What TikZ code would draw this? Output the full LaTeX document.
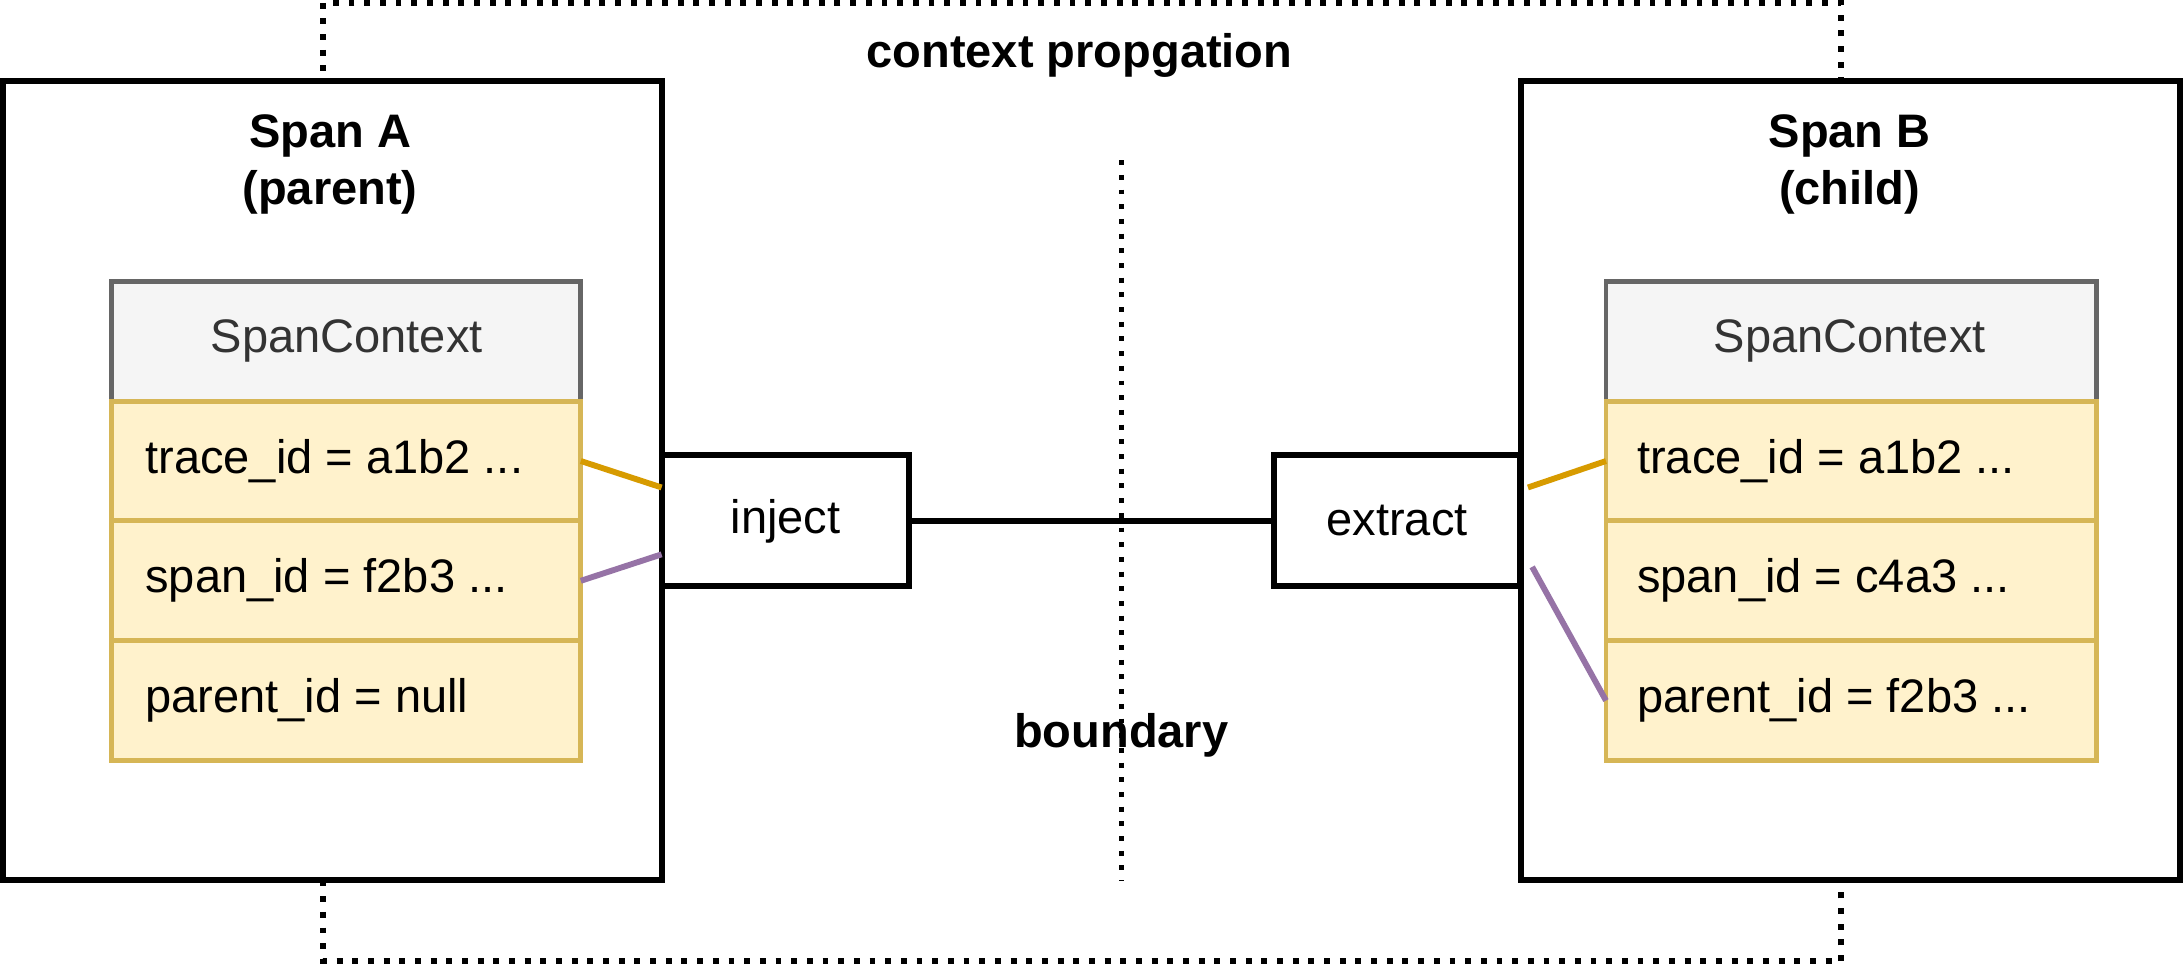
\documentclass[tikz,border=0pt]{standalone}
\usepackage{fontspec}
\setmainfont{Liberation Sans}
\definecolor{yfill}{HTML}{FFF2CC}
\definecolor{yline}{HTML}{D6B656}
\definecolor{orng}{HTML}{D79B00}
\definecolor{purp}{HTML}{9673A6}
\definecolor{gfill}{HTML}{F5F5F5}
\definecolor{gline}{HTML}{666666}
\begin{document}
\begin{tikzpicture}[x=0.01cm,y=-0.01cm,
  box/.style={draw=black,line width=1.2pt,fill=white},
  hdr/.style={draw=gline,line width=1pt,fill=gfill},
  row/.style={draw=yline,line width=1pt,fill=yfill},
  txt/.style={font=\fontsize{9.6}{11.5}\selectfont},
  btxt/.style={font=\bfseries\fontsize{9.6}{11.5}\selectfont,align=center},
  rtxt/.style={font=\fontsize{9.6}{11.5}\selectfont,anchor=west},
  op/.style={box,font=\fontsize{9.6}{11.5}\selectfont,minimum width=1.77cm,minimum height=0.94cm,inner sep=0pt}]
\useasboundingbox (0,0) rectangle (1568,692);
\draw[dotted,line width=1.2pt] (232,2) rectangle (1322,690);
\node[btxt] (ctx) at (775,40) {context propgation};
\draw[dotted,line width=1pt] (805,115) -- (805,632);
\node[btxt] (bnd) at (805,528) {boundary};
% Span A
\draw[box] (2,58) rectangle (475,632);
\node[btxt] (ta) at (237,118) {Span A\\(parent)};
\draw[hdr] (80,202) rectangle (417,288);
\node[txt,text=black!80] (ha) at (249,245) {SpanContext};
\draw[row] (80,288) rectangle (417,374);
\draw[row] (80,374) rectangle (417,460);
\draw[row] (80,460) rectangle (417,546);
\node[rtxt] (a1) at (92,331) {trace\_id = a1b2 ...};
\node[rtxt] (a2) at (92,417) {span\_id = f2b3 ...};
\node[rtxt] (a3) at (92,503) {parent\_id = null};
\coordinate (a1e) at (417,331);
\coordinate (a2e) at (417,417);
% Span B
\draw[box] (1092,58) rectangle (1565,632);
\node[btxt] (tb) at (1328,118) {Span B\\(child)};
\draw[hdr] (1153,202) rectangle (1505,288);
\node[txt,text=black!80] (hb) at (1328,245) {SpanContext};
\draw[row] (1153,288) rectangle (1505,374);
\draw[row] (1153,374) rectangle (1505,460);
\draw[row] (1153,460) rectangle (1505,546);
\node[rtxt] (b1) at (1163,331) {trace\_id = a1b2 ...};
\node[rtxt] (b2) at (1163,417) {span\_id = c4a3 ...};
\node[rtxt] (b3) at (1163,503) {parent\_id = f2b3 ...};
\coordinate (b1w) at (1153,331);
\coordinate (b3w) at (1153,503);
% inject / extract
\node[op] (inj) at (564,374) {inject};
\node[op] (ext) at (1003,374) {extract};
\draw[line width=1.1pt] (inj.east) -- (ext.west);
\coordinate (i1) at (475,350);
\coordinate (i2) at (475,398);
\coordinate (e1) at (1097,350);
\coordinate (e2) at (1100,407);
\draw[orng,line width=1.2pt] (a1e) -- (i1);
\draw[purp,line width=1.2pt] (a2e) -- (i2);
\draw[orng,line width=1.2pt] (e1) -- (b1w);
\draw[purp,line width=1.2pt] (e2) -- (b3w);
\end{tikzpicture}
\end{document}
